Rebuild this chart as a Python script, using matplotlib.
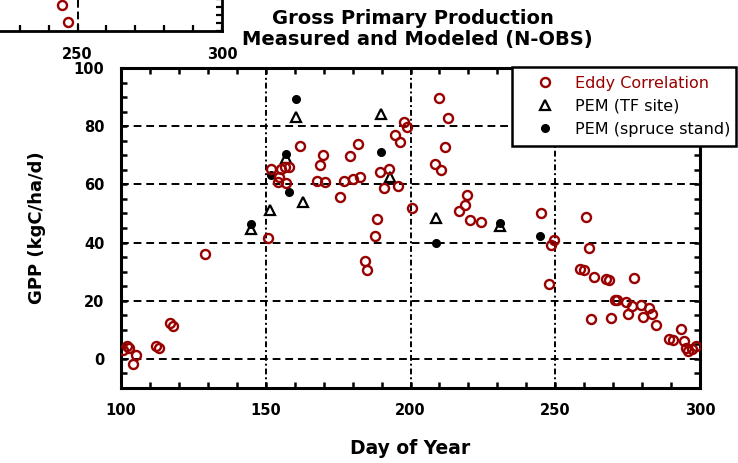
import numpy as np
import matplotlib
matplotlib.use("Agg")
import matplotlib.pyplot as plt
from matplotlib.ticker import MultipleLocator

# ── Data ──────────────────────────────────────────────────────────────────────
eddy_day = [100.8, 102.2, 102.8, 104.2, 105.1, 112.0, 113.1, 117.0, 118.0, 129.1,
            150.9, 151.8, 154.1, 154.7, 155.3, 156.7, 157.0, 157.9, 161.9, 167.7,
            168.8, 169.7, 170.6, 175.8, 176.9, 179.0, 180.0, 181.8, 182.7, 184.3,
            185.0, 187.9, 188.5, 189.6, 191.0, 192.7, 194.7, 195.6, 196.5, 197.9,
            198.9, 200.6, 208.3, 210.0, 210.6, 211.8, 212.9, 216.7, 218.7, 219.5,
            220.4, 224.5, 245.2, 247.8, 248.7, 249.5, 258.5, 260.0, 260.6, 261.5,
            262.5, 263.3, 267.7, 268.5, 269.4, 270.6, 271.5, 274.3, 275.3, 276.6,
            277.2, 279.7, 280.4, 282.4, 283.3, 284.8, 289.3, 290.8, 293.3, 294.5,
            295.1, 296.0, 297.1, 298.6]
eddy_gpp = [3.0, 4.6, 3.8, -1.6, 1.2, 4.4, 3.6, 12.2, 11.3, 36.2,
            41.6, 65.2, 60.7, 62.7, 65.2, 65.9, 60.4, 65.8, 73.3, 61.0,
            66.5, 70.2, 60.8, 55.5, 61.0, 69.6, 62.0, 73.9, 62.4, 33.6,
            30.5, 42.1, 48.2, 64.2, 58.7, 65.2, 76.9, 59.3, 74.7, 81.3,
            79.7, 51.9, 67.0, 89.8, 65.0, 72.8, 82.9, 50.9, 52.8, 56.4,
            47.7, 46.9, 50.2, 25.8, 39.0, 41.0, 30.9, 30.5, 48.7, 38.2,
            13.6, 28.1, 27.3, 27.0, 14.0, 20.2, 20.2, 19.5, 15.6, 18.1,
            27.7, 18.6, 14.5, 17.6, 15.6, 11.6, 7.0, 6.5, 10.2, 6.1,
            3.8, 2.7, 3.3, 4.6]

tf_day = [144.9, 151.6, 157.0, 160.4, 162.7, 189.9, 193.0, 208.7, 230.8]
tf_gpp = [44.7, 51.3, 69.0, 83.1, 54.1, 84.2, 62.5, 48.4, 45.6]

spruce_day = [145.0, 151.8, 157.0, 157.9, 160.4, 189.9, 208.7, 230.8, 244.6]
spruce_gpp = [46.4, 63.1, 70.5, 57.4, 89.4, 71.1, 39.9, 46.7, 42.4]

# leftover corner of another chart pasted at the top left
old_day = [244.7, 246.7]
old_val = [25.7, 8.7]

RED = "#990000"
FW = "bold"

fig = plt.figure(figsize=(7.38, 4.63), dpi=100)

# ── Old chart fragment (top-left) ────────────────────────────────────────────
ax0 = fig.add_axes([0, 1 - 30.7 / 463, 222 / 738, 46 / 463])
ax0.set_xlim(300 - 222 / 2.89, 300)
ax0.set_ylim(0, 46)
for s in ["top", "left"]:
    ax0.spines[s].set_visible(False)
for s in ["bottom", "right"]:
    ax0.spines[s].set_linewidth(2.0)
ax0.axvline(250, color="black", lw=1.4, ls=(0, (4, 2)))
ax0.plot(old_day, old_val, "o", mfc="none", mec=RED, mew=1.7, ms=6.5, clip_on=False)
ax0.xaxis.set_major_locator(MultipleLocator(50))
ax0.xaxis.set_minor_locator(MultipleLocator(10))
ax0.yaxis.set_major_locator(MultipleLocator(8))
ax0.yaxis.set_ticks_position("right")
ax0.tick_params(axis="both", which="both", direction="in", width=1.6, length=4)
ax0.tick_params(axis="y", labelright=False)
ax0.tick_params(axis="x", which="major", pad=12, labelsize=10.5)
for t in ax0.get_xticklabels():
    t.set_fontweight(FW)

# ── Main chart ───────────────────────────────────────────────────────────────
ax = fig.add_axes([121 / 738, 1 - 388 / 463, (700 - 121) / 738, (388 - 68) / 463])
ax.set_xlim(100, 300)
ax.set_ylim(-10, 100)

for yv in [0, 20, 40, 60, 80]:
    ax.axhline(yv, color="black", lw=1.4, ls=(0, (4, 2.5)), zorder=1)
for xv in [150, 200, 250]:
    ax.axvline(xv, color="black", lw=1.4, ls=(0, (3, 1.5, 1, 1.5)), zorder=1)

ax.plot(tf_day, tf_gpp, "^", mfc="white", mec="black", mew=1.6, ms=7,
        ls="none", label="PEM (TF site)", zorder=3)
ax.plot(spruce_day, spruce_gpp, "o", color="black", ms=5.5,
        ls="none", label="PEM (spruce stand)", zorder=4)
ax.plot(eddy_day, eddy_gpp, "o", mfc="none", mec=RED, mew=1.7, ms=6.5,
        ls="none", label="Eddy Correlation", zorder=5)

ax.xaxis.set_major_locator(MultipleLocator(50))
ax.xaxis.set_minor_locator(MultipleLocator(10))
ax.yaxis.set_minor_locator(MultipleLocator(5))
ax.set_yticks([0, 20, 40, 60, 80, 100])
ax.tick_params(axis="both", which="both", direction="in", width=1.8, length=4.5,
               top=True, right=True)
ax.tick_params(axis="x", which="major", pad=11, labelsize=10.5)
ax.tick_params(axis="y", which="major", pad=12, labelsize=10.5)
for t in ax.get_xticklabels() + ax.get_yticklabels():
    t.set_fontweight(FW)
for s in ax.spines.values():
    s.set_linewidth(2.2)

ax.set_xlabel("Day of Year", fontsize=13.5, fontweight=FW, labelpad=15)
ax.set_ylabel("GPP (kgC/ha/d)", fontsize=13, fontweight=FW, labelpad=20)

fig.text(413 / 738, 1 - 18 / 463, "Gross Primary Production", ha="center",
         va="center", fontsize=14, fontweight=FW)
fig.text(417 / 738, 1 - 40 / 463, "Measured and Modeled (N-OBS)", ha="center",
         va="center", fontsize=14, fontweight=FW)

h, l = ax.get_legend_handles_labels()
order = [2, 0, 1]
leg = ax.legend([h[i] for i in order], [l[i] for i in order],
                loc="upper left", mode="expand",
                bbox_to_anchor=(512 / 738, 1 - 67 / 463 - 0.01, (736 - 512) / 738, 0.01),
                bbox_transform=fig.transFigure, fontsize=11.5, fancybox=False,
                framealpha=1, edgecolor="black", borderpad=0.55,
                labelspacing=0.5, handlelength=3.0, handletextpad=0.4,
                borderaxespad=0, labelcolor=[RED, "black", "black"])
leg.get_frame().set_linewidth(1.8)
leg.set_zorder(10)

fig.savefig("out.png", dpi=100)
